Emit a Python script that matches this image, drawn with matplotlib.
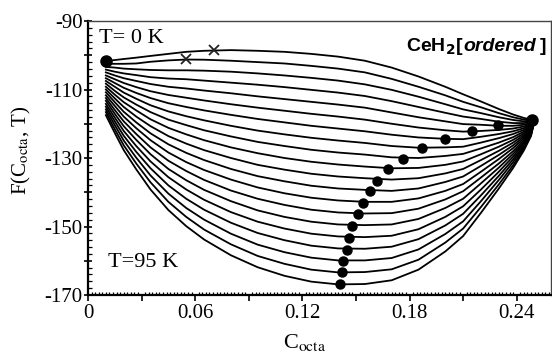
import numpy as np
import matplotlib
matplotlib.use("Agg")
import matplotlib.pyplot as plt
from matplotlib.ticker import MultipleLocator, FuncFormatter

plt.rcParams['font.family'] = 'Liberation Serif'
plt.rcParams['mathtext.fontset'] = 'stix'
plt.rcParams['axes.unicode_minus'] = False

# concentration grid (C_octa) and temperatures (K)
c_grid = [0.01, 0.015, 0.02, 0.027, 0.035, 0.045, 0.055, 0.065, 0.08, 0.095,
          0.11, 0.125, 0.14, 0.155, 0.17, 0.185, 0.2, 0.21, 0.22, 0.23,
          0.238, 0.244, 0.248, 0.25]
temps = list(range(0, 100, 5))

# F(C_octa, T), one row per C value, columns T = 0..95 K
F_by_c = [
    [-101.7, -102.5, -103.4, -104.2, -105.0, -105.9, -106.7, -107.5, -108.3, -109.2,
     -110.0, -110.8, -111.7, -112.5, -113.3, -114.2, -115.0, -115.8, -116.6, -117.5],
    [-101.4, -102.5, -103.6, -104.8, -105.9, -107.0, -108.1, -109.2, -110.4, -111.5,
     -112.6, -113.7, -114.8, -116.0, -117.1, -118.2, -119.3, -120.4, -121.6, -122.7],
    [-101.1, -102.5, -103.9, -105.3, -106.7, -108.1, -109.5, -110.9, -112.3, -113.7,
     -115.1, -116.5, -117.9, -119.3, -120.7, -122.1, -123.5, -124.9, -126.3, -127.7],
    [-100.7, -102.4, -104.1, -105.8, -107.5, -109.3, -111.0, -112.7, -114.4, -116.1,
     -117.9, -119.6, -121.3, -123.0, -124.7, -126.5, -128.2, -129.9, -131.6, -133.3],
    [-100.2, -101.9, -104.3, -106.4, -108.4, -110.5, -112.5, -114.6, -116.6, -118.7,
     -120.7, -122.8, -124.8, -126.9, -128.9, -131.0, -133.0, -135.1, -137.1, -139.2],
    [-99.6, -101.5, -104.4, -106.8, -109.2, -111.6, -114.0, -116.4, -118.8, -121.2,
     -123.6, -126.0, -128.4, -130.8, -133.2, -135.6, -138.0, -140.4, -142.8, -145.2],
    [-99.0, -101.25, -104.4, -107.0, -109.7, -112.4, -115.1, -117.8, -120.4, -123.1,
     -125.8, -128.5, -131.2, -133.8, -136.5, -139.2, -141.9, -144.6, -147.2, -149.9],
    [-98.7, -101.3, -104.5, -107.4, -110.3, -113.2, -116.1, -119.0, -121.9, -124.8,
     -127.7, -130.6, -133.5, -136.4, -139.3, -142.2, -145.1, -148.0, -150.9, -153.8],
    [-98.5, -101.6, -104.8, -108.0, -111.1, -114.3, -117.4, -120.6, -123.7, -126.9,
     -130.0, -133.2, -136.3, -139.5, -142.6, -145.8, -148.9, -152.1, -155.2, -158.4],
    [-98.7, -102.0, -105.3, -108.6, -112.0, -115.3, -118.6, -122.0, -125.3, -128.6,
     -132.0, -135.3, -138.6, -141.9, -145.3, -148.6, -151.9, -155.3, -158.6, -161.9],
    [-99.0, -102.4, -105.9, -109.3, -112.8, -116.2, -119.6, -123.1, -126.5, -130.0,
     -133.4, -136.8, -140.3, -143.7, -147.2, -150.6, -154.0, -157.5, -160.9, -164.4],
    [-99.6, -103.1, -106.6, -110.1, -113.6, -117.1, -120.6, -124.1, -127.6, -131.1,
     -134.6, -138.1, -141.6, -145.1, -148.6, -152.1, -155.6, -159.1, -162.6, -166.1],
    [-100.4, -103.9, -107.4, -110.9, -114.4, -117.9, -121.4, -124.9, -128.4, -131.9,
     -135.4, -138.9, -142.4, -145.9, -149.4, -152.9, -156.4, -159.9, -163.4, -166.9],
    [-101.6, -105.0, -108.5, -111.9, -115.3, -118.8, -122.2, -125.6, -129.0, -132.5,
     -135.9, -139.3, -142.8, -146.2, -149.6, -153.1, -156.5, -159.9, -163.3, -166.8],
    [-103.6, -106.9, -110.1, -113.4, -116.7, -120.0, -123.2, -126.5, -129.8, -133.0,
     -136.3, -139.6, -142.8, -146.1, -149.4, -152.7, -155.9, -159.2, -162.5, -165.7],
    [-106.2, -109.2, -112.1, -115.1, -118.1, -121.1, -124.0, -127.0, -130.0, -132.9,
     -135.9, -138.9, -141.8, -144.8, -147.8, -150.8, -153.7, -156.7, -159.7, -162.6],
    [-109.2, -111.7, -114.3, -116.8, -119.3, -121.9, -124.4, -126.9, -129.4, -132.0,
     -134.5, -137.0, -139.6, -142.1, -144.6, -147.2, -149.7, -152.2, -154.7, -157.3],
    [-111.4, -113.6, -115.8, -117.9, -120.1, -122.3, -124.5, -126.7, -128.8, -131.0,
     -133.2, -135.4, -137.6, -139.7, -141.9, -144.1, -146.3, -148.5, -150.6, -152.8],
    [-113.5, -115.2, -116.9, -118.6, -120.3, -122.1, -123.8, -125.5, -127.2, -128.9,
     -130.6, -132.3, -134.0, -135.7, -137.4, -139.2, -140.9, -142.6, -144.3, -146.0],
    [-115.7, -116.9, -118.1, -119.4, -120.6, -121.8, -123.0, -124.2, -125.5, -126.7,
     -127.9, -129.1, -130.3, -131.6, -132.8, -134.0, -135.2, -136.4, -137.7, -138.9],
    [-117.3, -118.1, -118.9, -119.8, -120.6, -121.4, -122.2, -123.0, -123.9, -124.7,
     -125.5, -126.3, -127.1, -128.0, -128.8, -129.6, -130.4, -131.2, -132.1, -132.9],
    [-118.3, -118.8, -119.3, -119.8, -120.3, -120.8, -121.3, -121.8, -122.3, -122.8,
     -123.3, -123.8, -124.3, -124.8, -125.3, -125.8, -126.3, -126.8, -127.3, -127.8],
    [-118.8, -119.1, -119.3, -119.6, -119.8, -120.1, -120.3, -120.6, -120.8, -121.1,
     -121.3, -121.6, -121.8, -122.1, -122.3, -122.6, -122.8, -123.1, -123.3, -123.6],
    [-119.0] * 20,
]

# minima of each curve (T = 20..95 K)
min_c = [0.2298, 0.2149, 0.1998, 0.1869, 0.1761, 0.1679, 0.1617, 0.1578,
         0.1537, 0.1509, 0.1477, 0.1459, 0.1448, 0.1427, 0.1421, 0.1410]
min_F = [-120.5, -122.2, -124.5, -127.1, -130.2, -133.3, -136.6, -139.7,
         -143.0, -146.3, -149.8, -153.3, -156.8, -160.1, -163.4, -166.9]
# end points
end_c = [0.0103, 0.2488]
end_F = [-101.6, -119.0]
# maxima of the two lowest-T curves
cross_c = [0.0705, 0.0548]
cross_F = [-98.5, -101.2]

curves = np.array(F_by_c).T

fig = plt.figure(figsize=(5.52, 3.54), dpi=100)
ax = fig.add_axes([88 / 552, 1 - 295 / 354, (551 - 88) / 552, (295 - 21) / 354])

for T, F in zip(temps, curves):
    ax.plot(c_grid, F, color='black', lw=1.3, solid_joinstyle='round')

ax.plot(min_c, min_F, 'o', color='black', ms=6.5, zorder=5)
ax.plot(end_c, end_F, 'o', color='black', ms=8, zorder=5)
ax.plot(cross_c, cross_F, 'x', color='#222222', ms=7, mew=1.3, zorder=5)

ax.set_xlim(0, 0.2592)
ax.set_ylim(-170, -90)

ax.xaxis.set_major_locator(MultipleLocator(0.03))
ax.xaxis.set_minor_locator(MultipleLocator(0.002))
ax.xaxis.set_major_formatter(FuncFormatter(
    lambda v, p: '' if round(v / 0.03) % 2 else ('0' if abs(v) < 1e-9 else f'{v:.2f}')))
ax.yaxis.set_major_locator(MultipleLocator(10))
ax.yaxis.set_minor_locator(MultipleLocator(2))
ax.yaxis.set_major_formatter(FuncFormatter(
    lambda v, p: '' if round(v / 10) % 2 == 0 else f'{v:.0f}'))

ax.tick_params(axis='x', which='major', direction='out', length=4.5, width=1.2,
               labelsize=15, pad=2)
ax.tick_params(axis='x', which='minor', direction='in', length=2.5, width=0.9)
ax.tick_params(axis='y', which='major', direction='inout', length=6, width=1.2,
               labelsize=15, pad=1)
ax.tick_params(axis='y', which='minor', direction='in', length=3, width=0.9)

for s in ['left', 'bottom']:
    ax.spines[s].set_linewidth(1.6)
for s in ['top', 'right']:
    ax.spines[s].set_linewidth(1.0)
    ax.spines[s].set_color('#444444')

ax.text(0.0062, -96.5, 'T= 0 K', fontsize=16, va='baseline', ha='left')
ax.text(0.0112, -161.7, 'T=95 K', fontsize=16, va='baseline', ha='left')

# CeH2[ordered] label, built right to left
lab_kw = dict(family='Liberation Sans', weight='bold', fontsize=14, va='baseline', ha='right')
t_br = ax.text(0.2565, -98.7, ']', **lab_kw)
t_ord = ax.annotate('ordered', xy=(0, -98.7), xycoords=(t_br, 'data'),
                    xytext=(-2.5, 0), textcoords='offset points',
                    style='italic', **lab_kw)
ax.annotate('CeH$_\\mathbf{2}$[', xy=(0, -98.7), xycoords=(t_ord, 'data'),
            math_fontfamily='dejavusans', **lab_kw)

fig.text(21 / 552, 1 - 150 / 354, 'F(C$_{\\rm octa}$, T)', rotation=90,
         fontsize=15, ha='center', va='center')
fig.text(283 / 552, 1 - 348 / 354, 'C$_{\\rm octa}$', fontsize=16,
         ha='left', va='baseline')

fig.savefig('out.png', dpi=100)
